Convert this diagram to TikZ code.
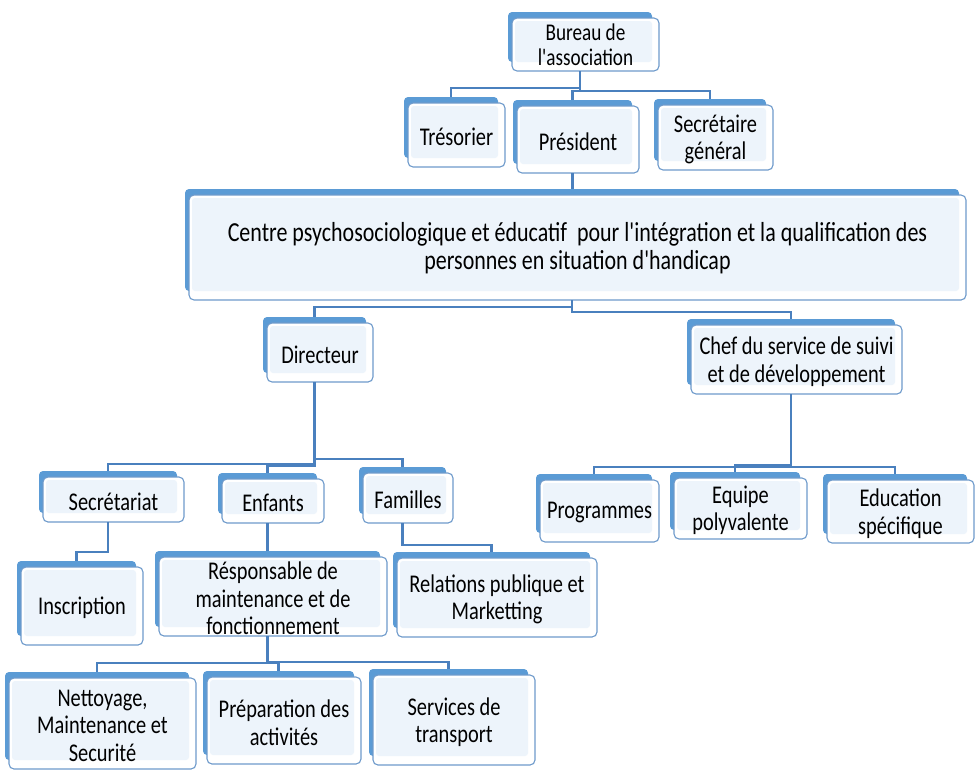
\documentclass[tikz,border=0pt]{standalone}
\usepackage{fontspec}
\setmainfont[FakeStretch=0.8,Ligatures=TeXOff]{Carlito}
\definecolor{backblue}{RGB}{91,155,213}
\definecolor{lineblue}{RGB}{74,128,190}
\definecolor{lightfill}{RGB}{237,244,251}
\tikzset{
  conn/.style={draw=lineblue, line width=2.4pt},
  txt/.style={align=center, inner sep=0pt, yshift=-2pt, font=\fontsize{25.5}{27.5}\selectfont},
  smalltxt/.style={align=center, inner sep=0pt, font=\fontsize{24}{25}\selectfont},
  bigtxt/.style={align=center, inner sep=0pt, yshift=-1pt, font=\fontsize{27.5}{28}\selectfont}
}
\newcommand\obox[7][txt]{%
  \fill[backblue, rounded corners=4pt] (#3-4,#4-6) rectangle (#5-7,#6-9);
  \draw[lineblue!80, line width=1.1pt, fill=white, rounded corners=5pt] (#3,#4) rectangle (#5,#6);
  \fill[lightfill, rounded corners=3pt] (#3+3,#4+3) rectangle (#5-7,#6-9);
  \node[#1] (#2) at ({(#3+#5)/2},{(#4+#6)/2}) {#7};
  \coordinate (#2-t) at ({(#3+#5)/2-5.5},#4-6);
  \coordinate (#2-b) at ({(#3+#5)/2-5.5},#6);
}
\begin{document}
\begin{tikzpicture}[x=1pt,y=-1pt]
\useasboundingbox (0,0) rectangle (975,780);
\obox[smalltxt]{bureau}{512}{18}{659}{71}{Bureau de\\l'association}
\obox{tresorier}{408}{103}{505}{167}{Trésorier}
\obox{president}{517}{106}{639}{173}{Président}
\obox{secgen}{658}{105}{773}{170}{Secrétaire\\général}
\obox[bigtxt]{centre}{189}{195}{966}{300}{Centre psychosociologique et éducatif~ pour l'intégration et la qualification des\\personnes en situation d'handicap}
\obox{directeur}{267}{323}{373}{382}{Directeur}
\obox{chef}{691}{325}{902}{394}{Chef du service de suivi\\et de développement}
\obox{secretariat}{43}{477}{184}{522}{Secrétariat}
\obox{enfants}{222}{479}{324}{523}{Enfants}
\obox{familles}{363}{473}{453}{523}{Familles}
\obox{programmes}{540}{480}{659}{542}{Programmes}
\obox{equipe}{674}{478}{807}{539}{Equipe\\polyvalente}
\obox{education}{827}{480}{974}{543}{Education\\spécifique}
\obox{inscription}{21}{567}{143}{645}{Inscription}
\obox{responsable}{159}{557}{387}{636}{Résponsable de\\maintenance et de\\fonctionnement}
\obox{relations}{397}{558}{597}{637}{Relations publique et\\Marketting}
\obox{nettoyage}{9}{678}{196}{769}{Nettoyage,\\Maintenance et\\Securité}
\obox{preparation}{207}{677}{361}{764}{Préparation des\\activités}
\obox{services}{373}{675}{535}{765}{Services de\\transport}
% connectors
\draw[conn] (bureau-b) -- ++(0,17) -| (tresorier-t);
\draw[conn] (bureau-b) -- ++(0,20) -| (president-t);
\draw[conn] (bureau-b) -- ++(0,20) -| (secgen-t);
\draw[conn] (president-b) -- (president-b |- centre-t);
\draw[conn] (centre-b) -- ++(0,7) -| (directeur-t);
\draw[conn] (centre-b) -- ++(0,12) -| (chef-t);
\draw[conn] (directeur-b) -- ++(0,82) -| (secretariat-t);
\draw[conn] (directeur-b) -- ++(0,84) -| (enfants-t);
\draw[conn] (directeur-b) -- ++(0,77) -| (familles-t);
\draw[conn] (chef-b) -- ++(0,73) -| (programmes-t);
\draw[conn] (chef-b) -- ++(0,71) -| (equipe-t);
\draw[conn] (chef-b) -- ++(0,73) -| (education-t);
\draw[conn] (secretariat-b) -- ++(0,30) -| (inscription-t);
\draw[conn] (enfants-b) -- (enfants-b |- responsable-t);
\draw[conn] (familles-b) -- ++(0,22) -| (relations-t);
\draw[conn] (responsable-b) -- ++(0,27) -| (nettoyage-t);
\draw[conn] (responsable-b) -- ++(0,27) -| (preparation-t);
\draw[conn] (responsable-b) -- ++(0,26) -| (services-t);
\end{tikzpicture}
\end{document}
